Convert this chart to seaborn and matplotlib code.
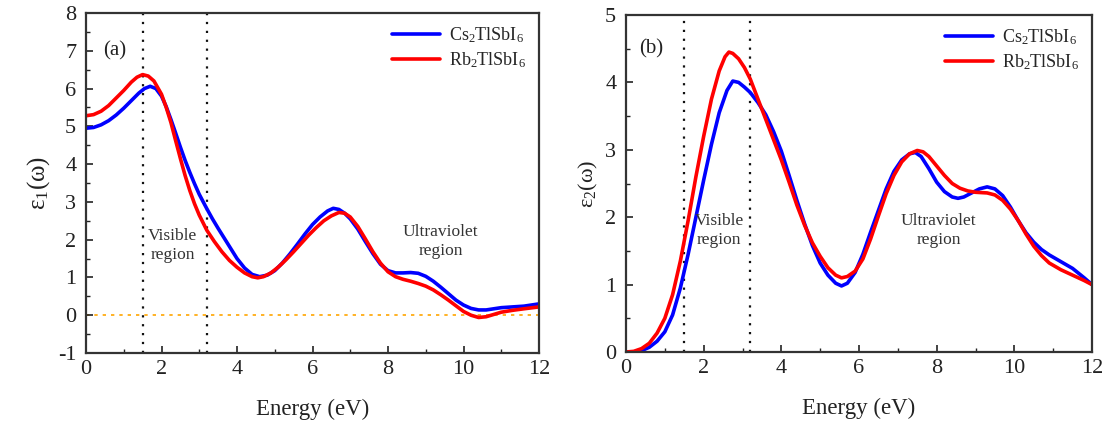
import numpy as np
import pandas as pd
import matplotlib
matplotlib.use("Agg")
import matplotlib.pyplot as plt
from matplotlib.ticker import MultipleLocator
import seaborn as sns

# ---- data ----
e1_cs_x = [0, 0.2, 0.4, 0.6, 0.8, 1.0, 1.2, 1.4, 1.55, 1.7, 1.85, 2.0, 2.125, 2.25, 2.375, 2.5, 2.625, 2.75,
           2.875, 3.0, 3.2, 3.35, 3.5, 3.65, 3.8, 4.0, 4.2, 4.4, 4.6, 4.8, 5.0, 5.2, 5.4, 5.6, 5.8, 6.0, 6.2,
           6.4, 6.55, 6.7, 6.85, 7.0, 7.2, 7.4, 7.6, 7.8, 8.0, 8.2, 8.4, 8.6, 8.8, 9.0, 9.2, 9.4, 9.6, 9.8,
           10.0, 10.2, 10.4, 10.6, 10.8, 11.0, 11.3, 11.6, 12.0]
e1_cs = [4.95, 4.97, 5.04, 5.15, 5.3, 5.48, 5.68, 5.88, 6.0, 6.06, 6.0, 5.8, 5.52, 5.18, 4.82, 4.45, 4.1, 3.78,
         3.48, 3.2, 2.82, 2.55, 2.3, 2.06, 1.82, 1.5, 1.25, 1.08, 1.02, 1.06, 1.18, 1.38, 1.62, 1.88, 2.15,
         2.4, 2.6, 2.76, 2.83, 2.8, 2.7, 2.55, 2.28, 1.95, 1.63, 1.35, 1.18, 1.12, 1.12, 1.13, 1.11, 1.03,
         0.9, 0.74, 0.57, 0.4, 0.27, 0.18, 0.14, 0.14, 0.17, 0.2, 0.22, 0.24, 0.3]
e1_rb_x = [0, 0.2, 0.4, 0.6, 0.8, 1.0, 1.2, 1.35, 1.5, 1.65, 1.8, 2.0, 2.125, 2.25, 2.375, 2.5, 2.625, 2.75,
           2.875, 3.0, 3.2, 3.4, 3.6, 3.8, 4.0, 4.2, 4.4, 4.55, 4.7, 4.9, 5.1, 5.3, 5.5, 5.7, 5.9, 6.1, 6.3,
           6.5, 6.7, 6.85, 7.0, 7.2, 7.4, 7.6, 7.8, 8.0, 8.2, 8.4, 8.6, 8.8, 9.0, 9.2, 9.4, 9.6, 9.8, 10.0,
           10.2, 10.4, 10.6, 10.8, 11.0, 11.3, 11.6, 12.0]
e1_rb = [5.28, 5.31, 5.4, 5.55, 5.75, 5.95, 6.17, 6.3, 6.37, 6.33, 6.2, 5.85, 5.5, 5.1, 4.62, 4.15, 3.7, 3.3,
         2.95, 2.65, 2.25, 1.95, 1.68, 1.45, 1.27, 1.12, 1.02, 0.99, 1.02, 1.12, 1.28, 1.47, 1.68, 1.9, 2.12,
         2.32, 2.5, 2.63, 2.72, 2.7, 2.6, 2.35, 2.02, 1.68, 1.38, 1.15, 1.02, 0.95, 0.9, 0.84, 0.77, 0.67,
         0.54, 0.4, 0.25, 0.1, 0.0, -0.06, -0.04, 0.02, 0.08, 0.13, 0.17, 0.22]

e2_cs_x = [0, 0.2, 0.4, 0.6, 0.8, 1.0, 1.2, 1.4, 1.6, 1.8, 2.0, 2.2, 2.4, 2.6, 2.75, 2.9, 3.05, 3.2, 3.4, 3.6,
           3.8, 4.0, 4.2, 4.4, 4.6, 4.8, 5.0, 5.2, 5.4, 5.55, 5.7, 5.9, 6.1, 6.3, 6.5, 6.7, 6.9, 7.1, 7.3,
           7.45, 7.6, 7.8, 8.0, 8.2, 8.4, 8.55, 8.7, 8.9, 9.1, 9.3, 9.5, 9.7, 9.9, 10.1, 10.3, 10.5, 10.7,
           10.9, 11.2, 11.5, 11.8, 12.0]
e2_cs = [0.0, 0.0, 0.02, 0.07, 0.16, 0.3, 0.55, 0.95, 1.45, 2.0, 2.55, 3.08, 3.55, 3.88, 4.02, 4.0, 3.93, 3.85,
         3.7, 3.52, 3.27, 2.98, 2.62, 2.25, 1.9, 1.58, 1.32, 1.14, 1.02, 0.98, 1.02, 1.18, 1.45, 1.78, 2.1,
         2.42, 2.68, 2.85, 2.94, 2.96, 2.9, 2.72, 2.52, 2.38, 2.3, 2.28, 2.3, 2.36, 2.42, 2.45, 2.42, 2.32,
         2.15, 1.95, 1.77, 1.63, 1.52, 1.44, 1.34, 1.24, 1.1, 1.0]
e2_rb_x = [0, 0.2, 0.4, 0.6, 0.8, 1.0, 1.2, 1.4, 1.6, 1.8, 2.0, 2.2, 2.4, 2.55, 2.65, 2.75, 2.9, 3.05, 3.2,
           3.4, 3.6, 3.8, 4.0, 4.2, 4.4, 4.6, 4.8, 5.0, 5.2, 5.4, 5.55, 5.7, 5.9, 6.1, 6.3, 6.5, 6.7, 6.9,
           7.1, 7.3, 7.5, 7.65, 7.8, 8.0, 8.2, 8.4, 8.6, 8.8, 9.0, 9.3, 9.5, 9.7, 9.9, 10.1, 10.3, 10.5,
           10.7, 10.9, 11.2, 11.5, 11.8, 12.0]
e2_rb = [0.0, 0.01, 0.05, 0.13, 0.28, 0.5, 0.85, 1.35, 1.95, 2.6, 3.2, 3.75, 4.17, 4.38, 4.45, 4.43, 4.35,
         4.22, 4.05, 3.75, 3.45, 3.15, 2.85, 2.52, 2.18, 1.88, 1.62, 1.42, 1.25, 1.14, 1.1, 1.12, 1.2, 1.38,
         1.68, 2.02, 2.35, 2.62, 2.82, 2.94, 2.99, 2.97, 2.9, 2.76, 2.62, 2.5, 2.43, 2.39, 2.37, 2.36, 2.33,
         2.25, 2.12, 1.95, 1.75, 1.57, 1.43, 1.32, 1.22, 1.14, 1.06, 1.0]

materials = ["Cs$_2$TlSbI$_6$", "Rb$_2$TlSbI$_6$"]


def frame(xa, ya, xb, yb):
    return pd.DataFrame({"Energy": xa + xb, "val": ya + yb,
                         "mat": [materials[0]] * len(xa) + [materials[1]] * len(xb)})


df1 = frame(e1_cs_x, e1_cs, e1_rb_x, e1_rb)
df2 = frame(e2_cs_x, e2_cs, e2_rb_x, e2_rb)

sns.set_theme(style="ticks")
plt.rcParams['font.family'] = ['Liberation Serif', 'DejaVu Serif']
plt.rcParams['mathtext.fontset'] = 'stix'
plt.rcParams['mathtext.default'] = 'regular'
plt.rcParams['axes.unicode_minus'] = False
plt.rcParams['lines.solid_joinstyle'] = 'round'

palette = {materials[0]: "#0000FF", materials[1]: "#FF0000"}

fig = plt.figure(figsize=(11.07, 4.21), dpi=100)
ax1 = fig.add_axes([86 / 1107, 1 - 353 / 421, 453 / 1107, 340 / 421])
ax2 = fig.add_axes([626 / 1107, 1 - 352 / 421, 466 / 1107, 337 / 421])

sns.lineplot(data=df1, x="Energy", y="val", hue="mat", palette=palette, ax=ax1, lw=2.6, sort=True)
sns.lineplot(data=df2, x="Energy", y="val", hue="mat", palette=palette, ax=ax2, lw=2.6, sort=True)

for ax, ylim in [(ax1, (-1, 8)), (ax2, (0, 5))]:
    ax.set_xlim(0, 12)
    ax.set_ylim(*ylim)
    ax.xaxis.set_major_locator(MultipleLocator(2))
    ax.xaxis.set_minor_locator(MultipleLocator(1))
    ax.yaxis.set_major_locator(MultipleLocator(1))
    ax.yaxis.set_minor_locator(MultipleLocator(0.5))
    ax.tick_params(which="both", direction="in", top=False, right=False, labelsize=16, colors="#222222")
    ax.tick_params(which="major", length=5, width=1.2)
    ax.tick_params(which="minor", length=3, width=1.0)
    ax.tick_params(axis="y", pad=7)
    ax.tick_params(axis="x", pad=5)
    for s in ax.spines.values():
        s.set_linewidth(1.6)
        s.set_color("#333333")
    ax.axvline(1.5, color="#111111", ls=(0, (1, 3)), lw=1.6, zorder=0)
    ax.axvline(3.2, color="#111111", ls=(0, (1, 3)), lw=1.6, zorder=0)
    ax.set_xlabel("Energy (eV)", fontsize=16.5, labelpad=14, color="#222222")
    ax.legend(loc="upper right", frameon=False, fontsize=13, handlelength=2.7,
              borderaxespad=0.3, labelspacing=0.3, handletextpad=0.5)

ax1.axhline(0, color="#FFA500", ls=(0, (2, 3)), lw=1.2, zorder=0)
ax1.set_ylabel("ε$_1$(ω)", fontsize=18, labelpad=4, color="#222222")
ax2.set_ylabel("ε$_2$(ω)", fontsize=16, labelpad=4, color="#222222")

ax1.text(0.45, 7.0, "(a)", fontsize=15, ha="left", va="center", color="#222222")
ax2.text(0.35, 4.5, "(b)", fontsize=15, ha="left", va="center", color="#222222")

ax1.text(2.3, 1.85, "Visible\nregion", fontsize=12.5, ha="center", va="center", color="#333333", linespacing=1.3)
ax1.text(9.4, 1.95, "Ultraviolet\nregion", fontsize=12.5, ha="center", va="center", color="#333333", linespacing=1.3)
ax2.text(2.4, 1.8, "Visible\nregion", fontsize=12.5, ha="center", va="center", color="#333333", linespacing=1.3)
ax2.text(8.05, 1.8, "Ultraviolet\nregion", fontsize=12.5, ha="center", va="center", color="#333333", linespacing=1.3)

fig.savefig("out.png", dpi=100)
